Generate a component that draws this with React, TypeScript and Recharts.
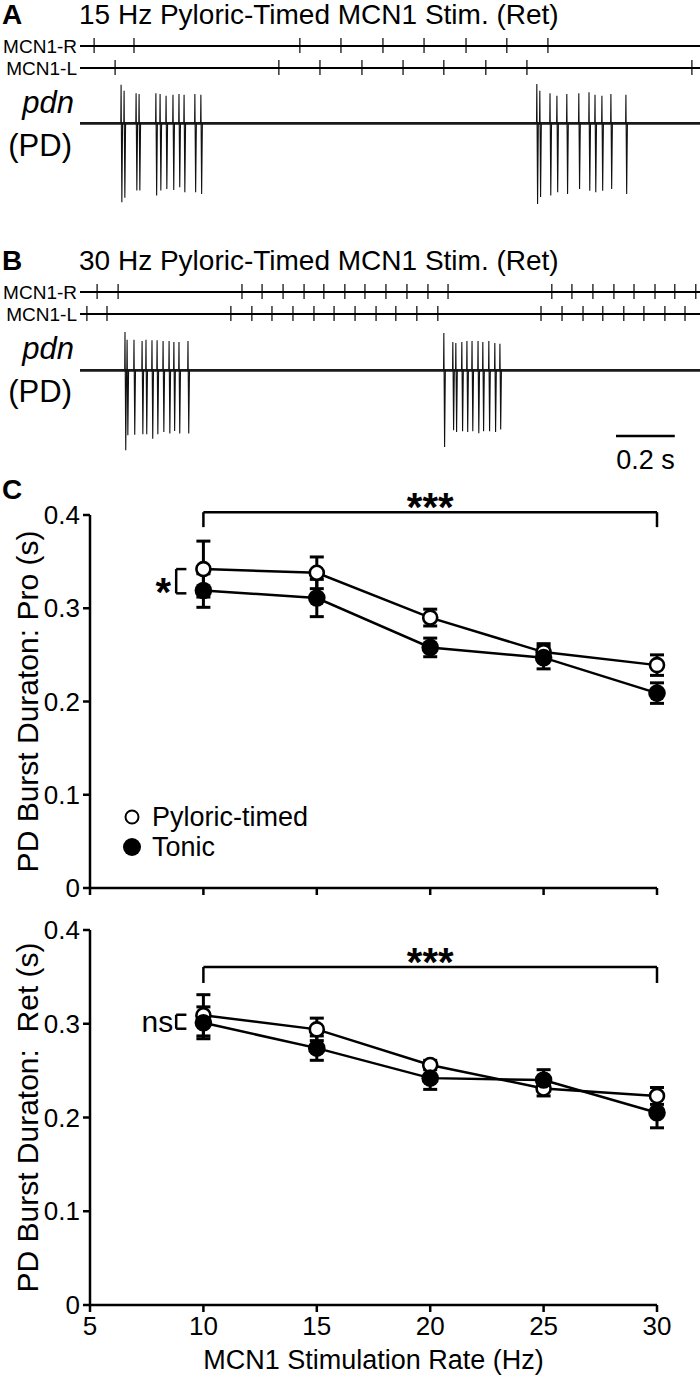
import React from "react";
import {
  ComposedChart,
  Line,
  Scatter,
  XAxis,
  YAxis,
  ErrorBar,
  ReferenceLine,
  Legend,
} from "recharts";

const FONT = "'Liberation Sans', Arial, Helvetica, sans-serif";

// time axis of the recordings (s); 0.2 s scale bar
const TRACE_END = 2.067;

// A: 15 Hz pyloric-timed MCN1 stim, stimulus times (s)
const aStimR = [0.047, 0.18, 0.733, 0.87, 1.01, 1.147, 1.287, 1.423, 1.56];
const aStimL = [0.117, 0.663, 0.8, 0.94, 1.077, 1.213, 1.353, 1.49, 2.04];
// A: pdn spikes (time, upward peak, downward trough)
const aSpikeT = [
  0.137, 0.147, 0.187, 0.197, 0.253, 0.267, 0.287, 0.31, 0.33, 0.347, 0.383, 0.403,
  1.523, 1.533, 1.567, 1.59, 1.623, 1.663, 1.697, 1.717, 1.74, 1.77, 1.82,
];
const aSpikeUp = [
  0.446, 0.377, 0.346, 0.338, 0.346, 0.338, 0.319, 0.331, 0.338, 0.331, 0.338, 0.331,
  0.454, 0.377, 0.346, 0.319, 0.338, 0.346, 0.358, 0.331, 0.319, 0.338, 0.331,
];
const aSpikeDown = [
  -0.911, -0.86, -0.776, -0.776, -0.834, -0.776, -0.757, -0.769, -0.738, -0.796, -0.796, -0.815,
  -0.93, -0.85, -0.834, -0.796, -0.815, -0.757, -0.777, -0.796, -0.777, -0.757, -0.815,
];

// B: 30 Hz pyloric-timed MCN1 stim
const bStimR = [
  0.057, 0.127, 0.54, 0.607, 0.677, 0.747, 0.813, 0.883, 0.95, 1.02, 1.09, 1.16, 1.227,
  1.573, 1.64, 1.71, 1.78, 1.847, 1.917, 1.983, 2.053,
];
const bStimL = [
  0.023, 0.09, 0.503, 0.573, 0.64, 0.71, 0.78, 0.847, 0.917, 0.987, 1.053, 1.123, 1.193,
  1.537, 1.607, 1.677, 1.743, 1.813, 1.88, 1.95, 2.017,
];
const bSpikeT = [
  0.15, 0.157, 0.18, 0.207, 0.22, 0.24, 0.257, 0.277, 0.297, 0.313, 0.33, 0.36,
  1.213, 1.243, 1.253, 1.273, 1.29, 1.307, 1.327, 1.343, 1.363, 1.383, 1.4,
];
const bSpikeUp = [
  0.442, 0.354, 0.354, 0.338, 0.354, 0.346, 0.346, 0.338, 0.338, 0.327, 0.327, 0.338,
  0.431, 0.327, 0.315, 0.327, 0.338, 0.338, 0.338, 0.327, 0.338, 0.315, 0.308,
];
const bSpikeDown = [
  -0.923, -0.75, -0.742, -0.738, -0.738, -0.788, -0.738, -0.711, -0.73, -0.7, -0.73, -0.73,
  -0.884, -0.692, -0.711, -0.704, -0.711, -0.704, -0.727, -0.704, -0.704, -0.711, -0.684,
];

// C: PD burst duration (s) vs MCN1 stimulation rate (Hz)
const rates = [10, 15, 20, 25, 30];
const xTicks = [5, 10, 15, 20, 25, 30];
const yTicks = [0, 0.1, 0.2, 0.3, 0.4];
const proPyloric = [0.342, 0.338, 0.29, 0.253, 0.239];
const proPyloricErr = [0.03, 0.017, 0.009, 0.009, 0.011];
const proTonic = [0.319, 0.311, 0.258, 0.247, 0.209];
const proTonicErr = [0.018, 0.02, 0.01, 0.012, 0.011];
const retPyloric = [0.309, 0.294, 0.256, 0.231, 0.223];
const retPyloricErr = [0.022, 0.012, 0.005, 0.008, 0.009];
const retTonic = [0.301, 0.274, 0.242, 0.24, 0.205];
const retTonicErr = [0.017, 0.013, 0.012, 0.011, 0.016];

const proRows = rates.map((rate, i) => ({
  rate,
  pyl: proPyloric[i],
  pylErr: proPyloricErr[i],
  ton: proTonic[i],
  tonErr: proTonicErr[i],
}));
const retRows = rates.map((rate, i) => ({
  rate,
  pyl: retPyloric[i],
  pylErr: retPyloricErr[i],
  ton: retTonic[i],
  tonErr: retTonicErr[i],
}));

const stimRows = (times: number[], y: number) => times.map((t) => ({ t, y }));

// each spike: up stroke then down stroke, gap between spikes
const spikeRows = (times: number[], up: number[], down: number[]) => {
  const rows: { t: number; v: number | null }[] = [];
  times.forEach((t, i) => {
    rows.push(
      { t: t - 0.001, v: 0 },
      { t, v: up[i] },
      { t: t + 0.0025, v: down[i] },
      { t: t + 0.005, v: 0 },
      { t: t + 0.0051, v: null }
    );
  });
  return rows;
};

const TickMark = (p: any) => (
  <line x1={p.cx} x2={p.cx} y1={p.cy - 8} y2={p.cy + 7} stroke="#000" strokeWidth={1.2} />
);

const text = (s: string, size: number, dx: number, dy: number, anchor = "middle", bold = false) => ({
  content: (p: any) => {
    const vb = p.viewBox;
    const x = vb.x + vb.width / 2 + dx;
    const y = vb.y + vb.height / 2 + dy;
    return (
      <text x={x} y={y} textAnchor={anchor} fontSize={size} fontFamily={FONT} fontWeight={bold ? "bold" : "normal"} fill="#000">
        {s}
      </text>
    );
  },
});

const yTitle = (s: string) => ({
  content: (p: any) => {
    const vb = p.viewBox;
    const x = vb.x - 3;
    const y = vb.y + vb.height / 2;
    return (
      <text x={x} y={y} transform={`rotate(-90 ${x} ${y})`} textAnchor="middle" dominantBaseline="central" fontSize={30} fontFamily={FONT} fill="#000" style={{ whiteSpace: "pre" }}>
        {s}
      </text>
    );
  },
});

function StimRaster({ top, right, left }: { top: number; right: number[]; left: number[] }) {
  const rLine = [{ t: 0, y: 1 }, { t: TRACE_END, y: 1 }];
  const lLine = [{ t: 0, y: 0 }, { t: TRACE_END, y: 0 }];
  return (
    <div style={{ position: "absolute", left: 0, top }}>
      <ComposedChart width={700} height={52} margin={{ top: 16, right: 0, bottom: 14, left: 0 }}>
        <XAxis type="number" dataKey="t" domain={[0, TRACE_END]} hide />
        <YAxis
          type="number"
          domain={[0, 1]}
          ticks={[0, 1]}
          interval={0}
          width={80}
          axisLine={false}
          tickLine={false}
          tickSize={0}
          tickMargin={3}
          tick={{ fontSize: 19, fill: "#000", fontFamily: FONT }}
          tickFormatter={(v: number) => (v === 1 ? "MCN1-R" : "MCN1-L")}
        />
        <Line data={rLine} dataKey="y" stroke="#000" strokeWidth={2.2} dot={false} isAnimationActive={false} />
        <Line data={lLine} dataKey="y" stroke="#000" strokeWidth={2.2} dot={false} isAnimationActive={false} />
        <Scatter data={stimRows(right, 1)} dataKey="y" shape={TickMark} isAnimationActive={false} />
        <Scatter data={stimRows(left, 0)} dataKey="y" shape={TickMark} isAnimationActive={false} />
      </ComposedChart>
    </div>
  );
}

function PdnTrace({ top, height, yMin, spikes, scaleBar }: any) {
  const base = [{ t: 0, v: 0 }, { t: TRACE_END, v: 0 }];
  return (
    <div style={{ position: "absolute", left: 0, top }}>
      <ComposedChart width={700} height={height} margin={{ top: 0, right: 0, bottom: 0, left: 80 }}>
        <XAxis type="number" dataKey="t" domain={[0, TRACE_END]} hide allowDataOverflow />
        <YAxis type="number" domain={[yMin, 0.5]} hide allowDataOverflow />
        <Line data={base} dataKey="v" stroke="#1a1a1a" strokeWidth={2.8} dot={false} isAnimationActive={false} />
        <Line data={spikes} dataKey="v" stroke="#111" strokeWidth={1.1} dot={false} isAnimationActive={false} />
        {scaleBar && (
          <ReferenceLine
            segment={[{ x: 1.787, y: -0.758 }, { x: 1.983, y: -0.758 }]}
            stroke="#000"
            strokeWidth={2.5}
            ifOverflow="visible"
            label={text("0.2 s", 27, 0, 33)}
          />
        )}
      </ComposedChart>
    </div>
  );
}

const openDot = (p: any) => (
  <circle key={`o${p.index}`} cx={p.cx} cy={p.cy} r={7} fill="#fff" stroke="#000" strokeWidth={2.6} />
);
const filledDot = (p: any) => <circle key={`f${p.index}`} cx={p.cx} cy={p.cy} r={8.8} fill="#000" />;

function LegendBox(props: any) {
  const items = props.payload || [];
  return (
    <div style={{ fontFamily: FONT, fontSize: 27, color: "#000" }}>
      {items.map((it: any) => (
        <div key={it.value} style={{ display: "flex", alignItems: "center", height: 30 }}>
          <svg width={34} height={30}>
            {it.value === "Tonic" ? (
              <circle cx={14} cy={15} r={9} fill="#000" />
            ) : (
              <circle cx={14} cy={15} r={6.5} fill="#fff" stroke="#000" strokeWidth={2} />
            )}
          </svg>
          <span>{it.value}</span>
        </div>
      ))}
    </div>
  );
}

const axisStroke = { stroke: "#000", strokeWidth: 2.5 };
const seg = (x1: number, y1: number, x2: number, y2: number) => [
  { x: x1, y: y1 },
  { x: x2, y: y2 },
];

function DurationChart({ top, height, rows, title, bottomAxis, bracketY, dropY, pairTop, pairBottom, pairLabel }: any) {
  return (
    <div style={{ position: "absolute", left: 0, top }}>
      <ComposedChart
        width={700}
        height={height}
        data={rows}
        margin={{ top: bottomAxis ? 30 : 45, right: 43, bottom: 0, left: 30 }}
      >
        <XAxis
          type="number"
          dataKey="rate"
          domain={[5, 30]}
          ticks={xTicks}
          interval={0}
          height={bottomAxis ? 78 : 27}
          tickSize={7}
          tickMargin={5}
          axisLine={axisStroke}
          tickLine={axisStroke}
          tick={{ fontSize: 26, fill: "#000", fontFamily: FONT }}
          tickFormatter={(v: number) => (bottomAxis ? String(v) : "")}
          label={
            bottomAxis
              ? { value: "MCN1 Stimulation Rate (Hz)", position: "insideBottom", offset: 14, fontSize: 27, fill: "#000", fontFamily: FONT }
              : undefined
          }
        />
        <YAxis
          type="number"
          domain={[0, 0.4]}
          ticks={yTicks}
          interval={0}
          width={60}
          tickSize={7}
          tickMargin={3}
          axisLine={axisStroke}
          tickLine={axisStroke}
          tick={{ fontSize: 26, fill: "#000", fontFamily: FONT }}
          tickFormatter={(v: number) => (v === 0 ? "0" : v.toFixed(1))}
          label={yTitle(title)}
        />
        <ReferenceLine segment={seg(10, bracketY, 30, bracketY)} stroke="#000" strokeWidth={2.5} ifOverflow="visible" label={text("***", 40, 0, 9, "middle", true)} />
        <ReferenceLine segment={seg(10, bracketY, 10, dropY)} stroke="#000" strokeWidth={2.5} ifOverflow="visible" />
        <ReferenceLine segment={seg(30, bracketY, 30, dropY)} stroke="#000" strokeWidth={2.5} ifOverflow="visible" />
        <ReferenceLine
          segment={seg(8.8, pairTop, 8.8, pairBottom)}
          stroke="#000"
          strokeWidth={2.5}
          ifOverflow="visible"
          label={pairLabel === "*" ? text("*", 40, -13, 25, "middle", true) : text("ns", 30, -3, 10, "end")}
        />
        <ReferenceLine segment={seg(8.8, pairTop, 9.25, pairTop)} stroke="#000" strokeWidth={2.5} ifOverflow="visible" />
        <ReferenceLine segment={seg(8.8, pairBottom, 9.25, pairBottom)} stroke="#000" strokeWidth={2.5} ifOverflow="visible" />
        <Line dataKey="pyl" name="Pyloric-timed" stroke="#000" strokeWidth={2.5} dot={openDot} isAnimationActive={false}>
          <ErrorBar dataKey="pylErr" width={7} strokeWidth={3} stroke="#000" direction="y" />
        </Line>
        <Line dataKey="ton" name="Tonic" stroke="#000" strokeWidth={2.5} dot={filledDot} isAnimationActive={false}>
          <ErrorBar dataKey="tonErr" width={7} strokeWidth={3} stroke="#000" direction="y" />
        </Line>
        {!bottomAxis && (
          <Legend
            layout="horizontal"
            verticalAlign="middle"
            align="center"
            content={LegendBox}
            wrapperStyle={{ left: 118, top: 332, width: "auto", height: "auto" }}
          />
        )}
      </ComposedChart>
    </div>
  );
}

const label = (s: string, left: number, top: number, size: number, extra: React.CSSProperties = {}) => (
  <div style={{ position: "absolute", left, top, fontSize: size, lineHeight: 1, fontFamily: FONT, color: "#000", whiteSpace: "nowrap", ...extra }}>
    {s}
  </div>
);

const rightLabel = (s: string, right: number, top: number, size: number, extra: React.CSSProperties = {}) => (
  <div style={{ position: "absolute", left: 0, width: right, top, textAlign: "right", fontSize: size, lineHeight: 1, fontFamily: FONT, color: "#000", whiteSpace: "nowrap", ...extra }}>
    {s}
  </div>
);

export default function App() {
  return (
    <div style={{ position: "absolute", left: 0, top: 0, width: 700, height: 1383, background: "#fff", overflow: "hidden" }}>
      {label("A", 2, 1, 28, { fontWeight: "bold" })}
      {label("15 Hz Pyloric-Timed MCN1 Stim. (Ret)", 79, 1, 28)}
      <StimRaster top={30} right={aStimR} left={aStimL} />
      {rightLabel("pdn", 74, 86.5, 31, { fontStyle: "italic" })}
      {rightLabel("(PD)", 72, 129.5, 31)}
      <PdnTrace top={80} height={130} yMin={-1} spikes={spikeRows(aSpikeT, aSpikeUp, aSpikeDown)} />

      {label("B", 2, 247, 28, { fontWeight: "bold" })}
      {label("30 Hz Pyloric-Timed MCN1 Stim. (Ret)", 79, 247, 28)}
      <StimRaster top={276} right={bStimR} left={bStimL} />
      {rightLabel("pdn", 74, 332.5, 31, { fontStyle: "italic" })}
      {rightLabel("(PD)", 72, 375.5, 31)}
      <PdnTrace top={327} height={156} yMin={-1.3} spikes={spikeRows(bSpikeT, bSpikeUp, bSpikeDown)} scaleBar />

      {label("C", 2, 476, 28, { fontWeight: "bold" })}
      <DurationChart
        top={470}
        height={445}
        rows={proRows}
        title="PD Burst Duraton: Pro (s)"
        bracketY={0.403}
        dropY={0.387}
        pairTop={0.342}
        pairBottom={0.316}
        pairLabel="*"
      />
      <DurationChart
        top={900}
        height={483}
        rows={retRows}
        title={"PD Burst Duraton:\u00a0 Ret (s)"}
        bottomAxis
        bracketY={0.3605}
        dropY={0.3435}
        pairTop={0.3096}
        pairBottom={0.2947}
        pairLabel="ns"
      />
    </div>
  );
}
